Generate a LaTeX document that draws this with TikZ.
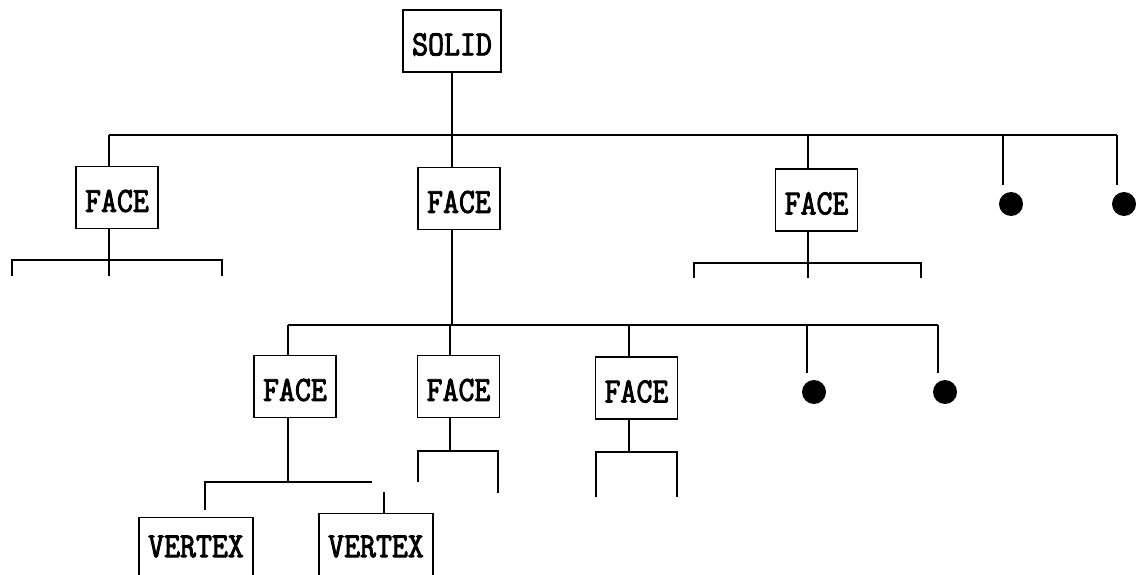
\documentclass[tikz,border=0pt]{standalone}
\usepackage{fontspec}
\newfontfamily\labfont[FakeStretch=0.86,FakeBold=2.6]{Latin Modern Mono}
\newcommand\lbltxt[1]{\raisebox{-3.5pt}[\height][\depth]{\scalebox{1}[0.98]{#1}}}
\begin{document}
\begin{tikzpicture}[x=1pt,y=-1pt,line width=1.1pt,
  lbl/.style={draw,inner sep=0pt,font=\labfont\fontsize{36}{36}\selectfont},
  facebox/.style={lbl,minimum width=82pt,minimum height=62pt},
  dot/.style={circle,fill=black,inner sep=0pt,minimum size=24pt}]
\useasboundingbox (0,0) rectangle (1136,575);
\clip (0,0) rectangle (1136,575);
% nodes
\node[lbl,minimum width=98pt,minimum height=62pt] (solid) at (452,41) {\lbltxt{SOLID}};
\node[facebox] (f1) at (117,197.5) {\lbltxt{FACE}};
\node[facebox] (f2) at (459,198.5) {\lbltxt{FACE}};
\node[facebox] (f3) at (816.5,200) {\lbltxt{FACE}};
\node[dot] (d1) at (1011,204) {};
\node[dot] (d2) at (1124,204) {};
\node[facebox] (g1) at (295,386.5) {\lbltxt{FACE}};
\node[facebox] (g2) at (458.5,386.5) {\lbltxt{FACE}};
\node[facebox] (g3) at (636.5,388) {\lbltxt{FACE}};
\node[dot] (d3) at (814,392) {};
\node[dot] (d4) at (945,392) {};
\node[lbl,minimum width=114pt,minimum height=58pt,anchor=north] (v1) at (196,517) {\scalebox{1}[0.98]{VERTEX}};
\node[lbl,minimum width=114pt,minimum height=66pt,anchor=north] (v2) at (376,513) {\scalebox{1}[0.98]{VERTEX}};
% bus coordinates
\coordinate (b0) at (452,135);
\coordinate (bL) at (109,135);
\coordinate (bR) at (1117,135);
\coordinate (b3) at (808,135);
\coordinate (b4) at (1003,135);
\coordinate (e1) at (1003,185);
\coordinate (e2) at (1117,185);
% top level
\draw (solid.south) -- (b0);
\draw (bL) -- (bR);
\draw (bL) -- (bL |- f1.north);
\draw (b0) -- (b0 |- f2.north);
\draw (b3) -- (b3 |- f3.north);
\draw (b4) -- (e1);
\draw (bR) -- (e2);
% f1 subtree
\coordinate (s1) at (109,260);
\draw (s1 |- f1.south) -- (s1);
\coordinate (s1l) at (12,260);
\coordinate (s1r) at (222,260);
\draw (12,276) -- (s1l) -- (s1r) -- (222,276);
\draw (s1) -- (109,276);
% f3 subtree
\coordinate (s3) at (808,263);
\draw (s3 |- f3.south) -- (s3);
\coordinate (s3l) at (694,263);
\coordinate (s3r) at (921,263);
\draw (694,278) -- (s3l) -- (s3r) -- (921,278);
\draw (s3) -- (808,278);
% f2 subtree
\coordinate (c0) at (452,325);
\coordinate (cL) at (288,325);
\coordinate (cR) at (938,325);
\coordinate (c2) at (450,325);
\coordinate (c3) at (629,325);
\coordinate (c4) at (807,325);
\draw (c0 |- f2.south) -- (c0);
\draw (cL) -- (cR);
\draw (cL) -- (cL |- g1.north);
\draw (c2) -- (c2 |- g2.north);
\draw (c3) -- (c3 |- g3.north);
\draw (c4) -- (807,373);
\draw (cR) -- (938,373);
% g2 subtree
\coordinate (t2) at (450,451);
\draw (t2 |- g2.south) -- (t2);
\draw (418,482) -- (418,451) -- (498,451) -- (498,493);
% g3 subtree
\coordinate (t3) at (629,452);
\draw (t3 |- g3.south) -- (t3);
\draw (596,497) -- (596,452) -- (677,452) -- (677,497);
% g1 subtree
\coordinate (t1) at (288,482);
\draw (t1 |- g1.south) -- (t1);
\draw (205,510) -- (205,482) -- (372,482);
\coordinate (t1v) at (384,492);
\draw (t1v) -- (v2.north -| t1v);
\end{tikzpicture}
\end{document}
